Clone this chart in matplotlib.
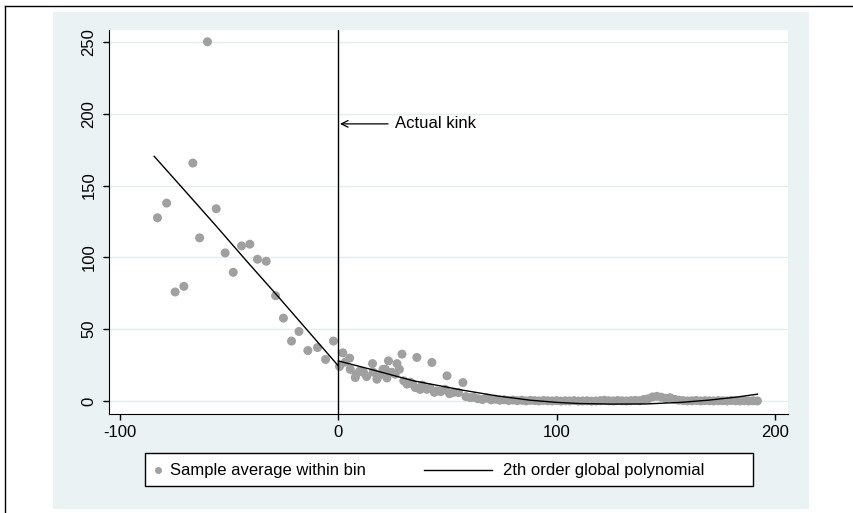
import matplotlib
matplotlib.use("Agg")
import matplotlib.pyplot as plt
from matplotlib.patches import Rectangle
from matplotlib.lines import Line2D

plt.rcParams['font.family'] = ['Liberation Sans', 'DejaVu Sans']
plt.rcParams['axes.unicode_minus'] = False

# bin averages, left of the kink
left_x = [-82.8, -78.6, -74.7, -70.7, -66.6, -63.5, -59.9, -55.9, -51.8, -48.1, -44.3,
          -40.5, -37.0, -33.0, -28.7, -25.1, -21.4, -18.0, -13.9, -9.5, -5.8, -2.2]
left_y = [127.6, 137.8, 75.9, 79.8, 165.7, 113.6, 250.2, 133.9, 103.1, 89.6, 108.0,
          109.2, 98.7, 97.3, 73.3, 57.7, 41.7, 48.4, 35.1, 37.2, 28.9, 41.7]

# bin averages, right of the kink
right_x = [0.6, 2.1, 3.2, 5.2, 5.5, 7.8, 8.2, 10.0, 11.6, 13.0, 15.7, 16.0, 17.7, 19.0,
           20.5, 21.5, 22.3, 23.0, 24.5, 26.1, 26.9, 28.0, 29.2, 30.0, 31.5, 33.0, 34.0,
           35.3, 36.0, 37.5, 38.5, 40.6, 42.0, 42.9, 44.0, 45.2, 47.0, 49.0, 49.8, 51.0,
           53.0, 55.1, 57.1, 58.5, 60.5,
           62, 64, 66, 68, 70, 72, 74, 76, 78, 80, 82, 84, 86, 88, 90, 92, 94, 96, 98,
           100, 102, 104, 106, 108, 110, 112, 114, 116, 118, 120, 122, 124, 126, 128,
           130, 132, 134, 136, 138, 140, 142, 144, 146, 148, 150, 152, 154, 156, 158,
           160, 162, 164, 166, 168, 170, 172, 174, 176, 178, 180, 182, 184, 186, 188,
           190, 192]
right_y = [24.0, 33.5, 27.0, 29.8, 22.0, 16.3, 18.6, 21.0, 19.8, 17.0, 26.0, 20.0, 15.1, 18.0,
           22.0, 22.1, 16.0, 27.9, 20.0, 18.6, 26.0, 22.0, 32.6, 14.0, 11.7, 13.0, 12.0,
           9.3, 30.3, 8.0, 11.0, 8.1, 9.0, 26.8, 6.0, 7.0, 6.5, 8.1, 17.5, 5.0,
           6.0, 5.8, 12.8, 3.0, 2.3,
           2.5, 1.5, 1.0, 2.0, 0.8, 1.2, 0.5, 0.8, 0.3, 0.6, 0.2, 0.5, 0.0, 0.4, 0.2, 0.0, 0.3, 0.1, 0.0,
           0.2, -0.1, 0.1, 0.0, 0.2, -0.1, 0.0, 0.1, -0.1, 0.0, 0.2, 0.5, 0.1, 0.0, 0.3,
           0.1, 0.0, 0.2, 0.4, 0.2, 1.0, 1.5, 2.8, 3.2, 2.6, 1.8, 2.2, 1.2, 0.5, 0.2,
           0.0, 0.1, 0.3, 0.0, 0.2, 0.1, 0.0, 0.2, 0.1, 0.0, 0.3, 0.1, 0.0, 0.2, 0.0,
           0.1, 0.0]

# fitted polynomial
fit_left_x = [-84.3, -70, -56, -42, -28, -14, 0]
fit_left_y = [170.4, 146.0, 122.0, 97.5, 73.5, 49.0, 24.5]
fit_right_x = [0, 14.7, 34.5, 57.4, 72.7, 88, 100, 110, 125, 141, 157, 170, 182, 192]
fit_right_y = [27.9, 22.1, 14.0, 7.4, 3.5, 0.5, -1.0, -1.8, -2.2, -2.1, -1.0, 0.6, 2.6, 4.7]

W, H = 854, 513
FS = 12
fig = plt.figure(figsize=(W / 100, H / 100), dpi=100, facecolor='white')

# stata-like outer background and frame
fig.add_artist(Rectangle((53 / W, 1 - 509 / H), (809 - 53) / W, (509 - 12) / H,
                         transform=fig.transFigure, facecolor='#eaf2f3', edgecolor='none', zorder=0))
fig.add_artist(Line2D([5 / W, 5 / W], [0, 1 - 6 / H], transform=fig.transFigure, color='black', lw=1))
fig.add_artist(Line2D([5 / W, 1], [1 - 6 / H, 1 - 6 / H], transform=fig.transFigure, color='black', lw=1))

ax = fig.add_axes([109 / W, 1 - 414 / H, (788 - 109) / W, (414 - 30) / H])
ax.set_facecolor('white')

grey = '#a0a0a0'
ax.scatter(left_x, left_y, s=42, color=grey, edgecolors='none', zorder=2)
ax.scatter(right_x, right_y, s=42, color=grey, edgecolors='none', zorder=2)
ax.plot(fit_left_x, fit_left_y, color='black', lw=1, zorder=3)
ax.plot(fit_right_x, fit_right_y, color='black', lw=1, zorder=3)
ax.axvline(0, color='black', lw=1, zorder=3)

ax.annotate('Actual kink', xy=(0.8, 193), xytext=(26, 193), fontsize=FS, va='center',
            arrowprops=dict(arrowstyle='->', color='black', lw=0.9, shrinkA=3, shrinkB=0))

ax.set_xlim(-105, 206)
ax.set_ylim(-9.1, 258.4)
ax.set_xticks([-100, 0, 100, 200])
ax.set_yticks([0, 50, 100, 150, 200, 250])
ax.yaxis.grid(True, color='#e3ecee', lw=1)
ax.set_axisbelow(True)
for s in ['top', 'right']:
    ax.spines[s].set_visible(False)
ax.tick_params(direction='out', length=4, width=1, labelsize=FS)
ax.tick_params(axis='y', pad=5)
ax.tick_params(axis='x', pad=4)
for lab in ax.get_yticklabels():
    lab.set_rotation(90)
    lab.set_va('center')

# legend box
fig.add_artist(Rectangle((145 / W, 1 - 486 / H), (753 - 145) / W, (486 - 453) / H,
                         transform=fig.transFigure, facecolor='white', edgecolor='black', lw=1, zorder=4))
ly = 1 - 470 / H
fig.add_artist(Line2D([157.6 / W], [ly], transform=fig.transFigure, marker='o', ms=5,
                      color=grey, mec='none', ls='none', zorder=5))
fig.text(170 / W, ly, 'Sample average within bin', fontsize=FS, va='center', zorder=5)
fig.add_artist(Line2D([424 / W, 492 / W], [ly, ly], transform=fig.transFigure, color='black', lw=1, zorder=5))
fig.text(503 / W, ly, '2th order global polynomial', fontsize=FS, va='center', zorder=5)

fig.savefig('out.png', dpi=100)
